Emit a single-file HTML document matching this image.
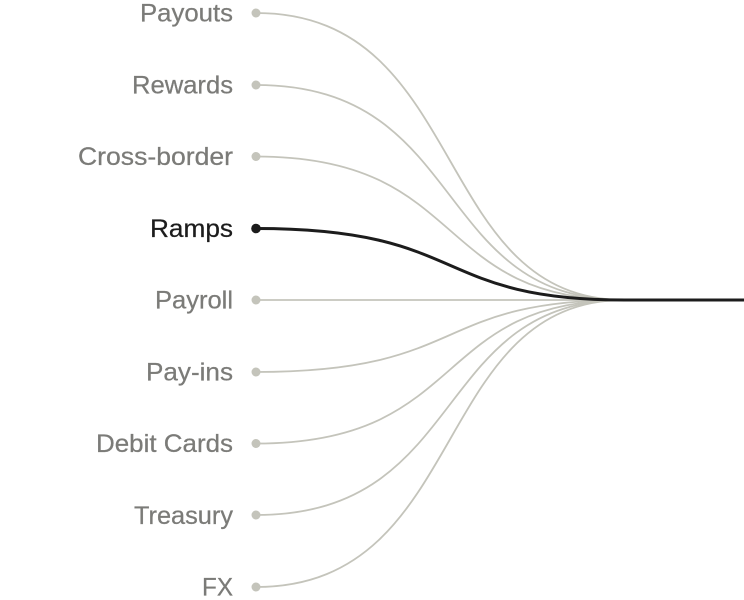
<!DOCTYPE html>
<html><head><meta charset="utf-8"><style>
html,body{margin:0;padding:0;background:#fff;width:744px;height:600px;overflow:hidden}
svg{display:block}
text{font-family:"Liberation Sans",sans-serif;font-size:25px;fill:#7b7b78;stroke:#7b7b78;stroke-width:.25;text-anchor:end}
.c{fill:none;stroke:#c4c4bb;stroke-width:1.8}
.d{fill:#c4c4bb}
</style></head><body>
<svg width="744" height="600" viewBox="0 0 744 600" xmlns="http://www.w3.org/2000/svg">
<text x="233" y="21.500" textLength="93" lengthAdjust="spacingAndGlyphs">Payouts</text>
<text x="233" y="93.500" textLength="101" lengthAdjust="spacingAndGlyphs">Rewards</text>
<text x="233" y="165" textLength="155" lengthAdjust="spacingAndGlyphs">Cross-border</text>
<text x="233" y="237" textLength="83" lengthAdjust="spacingAndGlyphs" style="fill:#1c1c1c;stroke:#1c1c1c">Ramps</text>
<text x="233" y="308.500" textLength="78" lengthAdjust="spacingAndGlyphs">Payroll</text>
<text x="233" y="380.500" textLength="87" lengthAdjust="spacingAndGlyphs">Pay-ins</text>
<text x="233" y="452" textLength="137" lengthAdjust="spacingAndGlyphs">Debit Cards</text>
<text x="233" y="524" textLength="99" lengthAdjust="spacingAndGlyphs">Treasury</text>
<text x="233" y="595.500" textLength="31" lengthAdjust="spacingAndGlyphs">FX</text>
<path class="c" d="M256 13C470 13 430 300 625 300"/>
<path class="c" d="M256 85C470 85 430 300 625 300"/>
<path class="c" d="M256 156.500C470 156.500 430 300 625 300"/>
<path class="c" d="M256 300H625"/>
<path class="c" d="M256 372C470 372 430 300 625 300"/>
<path class="c" d="M256 443.500C470 443.500 430 300 625 300"/>
<path class="c" d="M256 515C470 515 430 300 625 300"/>
<path class="c" d="M256 587C470 587 430 300 625 300"/>
<path d="M256 228.500C470 228.500 430 300 625 300H744" fill="none" stroke="#1c1c1c" stroke-width="3"/>
<circle class="d" cx="256" cy="13" r="4.500"/>
<circle class="d" cx="256" cy="85" r="4.500"/>
<circle class="d" cx="256" cy="156.500" r="4.500"/>
<circle cx="256" cy="228.500" r="4.800" fill="#1c1c1c"/>
<circle class="d" cx="256" cy="300" r="4.500"/>
<circle class="d" cx="256" cy="372" r="4.500"/>
<circle class="d" cx="256" cy="443.500" r="4.500"/>
<circle class="d" cx="256" cy="515" r="4.500"/>
<circle class="d" cx="256" cy="587" r="4.500"/>
</svg>
</body></html>
